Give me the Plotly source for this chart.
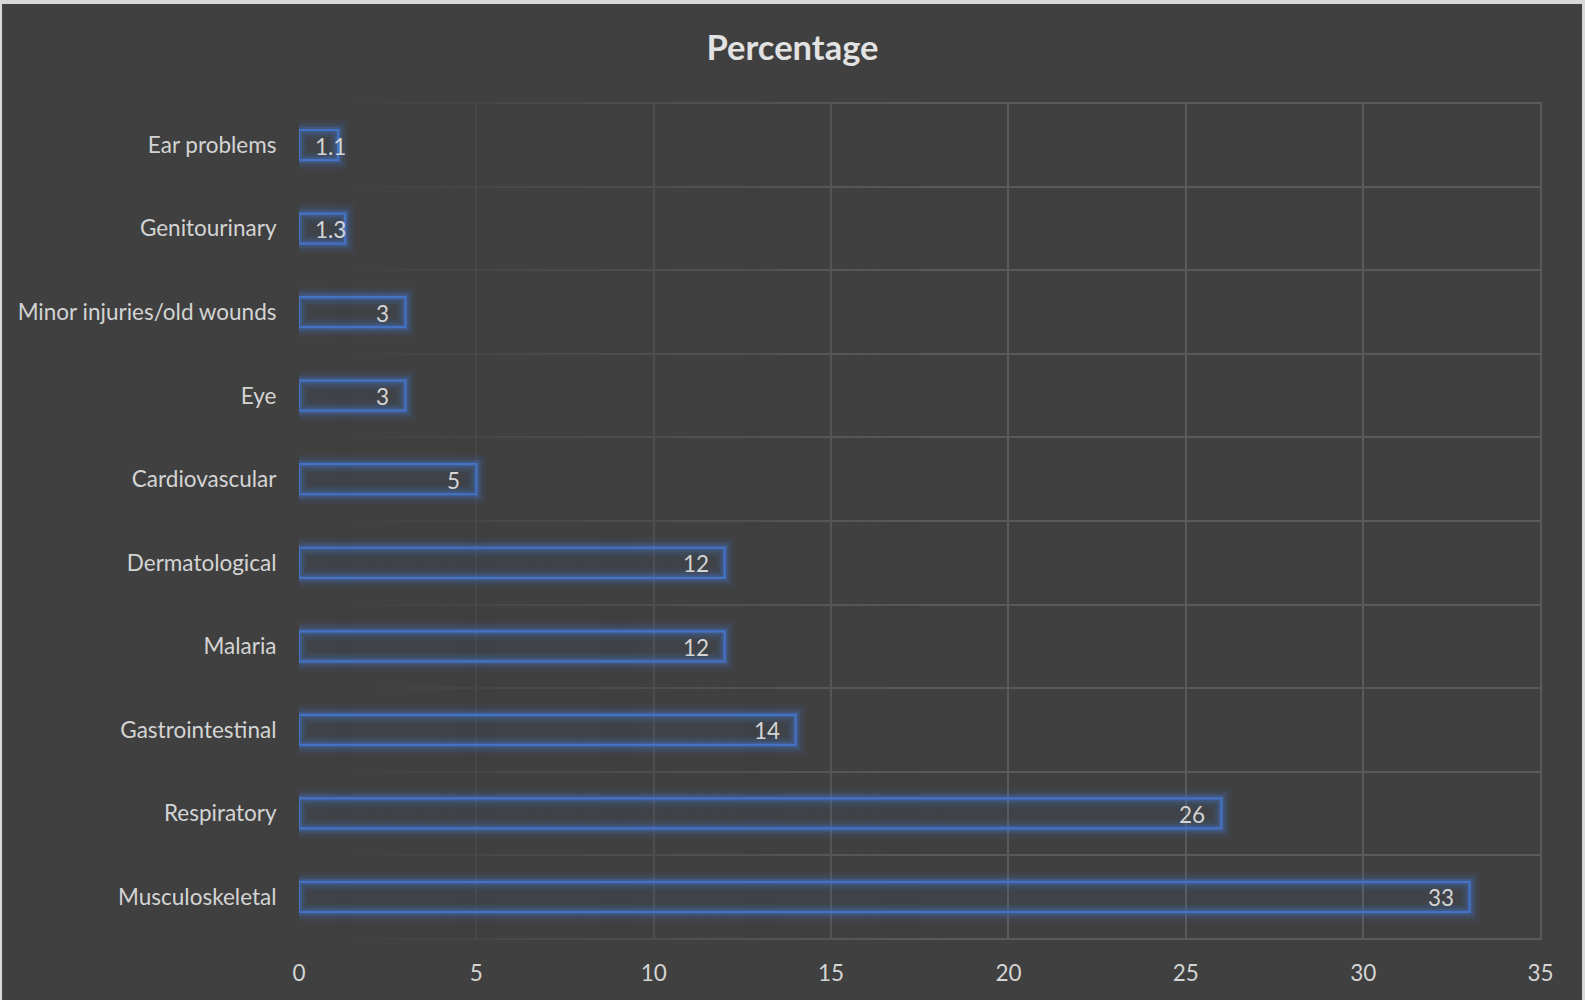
import plotly.graph_objects as go

# Share of consultations by condition group (%)
categories = [
    "Musculoskeletal",
    "Respiratory",
    "Gastrointestinal",
    "Malaria",
    "Dermatological",
    "Cardiovascular",
    "Eye",
    "Minor injuries/old wounds",
    "Genitourinary",
    "Ear problems",
]
percentages = [33, 26, 14, 12, 12, 5, 3, 3, 1.3, 1.1]
x_ticks = [0, 5, 10, 15, 20, 25, 30, 35]

positions = list(range(len(categories)))

BG = "#404040"
GRID = "#5A5A5A"
BLUE = "#4472C4"
TEXT = "#D4D4D4"
FONT = "Lato, 'Open Sans', sans-serif"
LABEL_SIZE = 22.5
Y_LO, Y_HI = -0.515, len(categories) - 0.485

fig = go.Figure()

# soft blue halo around each bar, built from wide translucent outlines
for width, alpha in [(20, 0.07), (14, 0.10), (9.5, 0.16), (6, 0.26)]:
    fig.add_trace(go.Bar(
        x=percentages, y=positions, orientation="h", width=0.36,
        marker=dict(color="rgba(0,0,0,0)",
                    line=dict(color=f"rgba(68,114,196,{alpha})", width=width)),
        hoverinfo="skip", showlegend=False,
    ))

# the bars themselves: outlined in blue with a faint tinted fill
fig.add_trace(go.Bar(
    x=percentages, y=positions, orientation="h", width=0.36,
    marker=dict(color="rgba(68,114,196,0.05)", line=dict(color=BLUE, width=2.2)),
    hoverinfo="skip", showlegend=False,
))

# value labels at the inner end of each bar
for pos, val in zip(positions, percentages):
    if val < 2:
        fig.add_annotation(x=0, y=pos, text=f"{val:g}", showarrow=False,
                           xanchor="left", xshift=14, yshift=-1,
                           font=dict(family=FONT, size=LABEL_SIZE, color=TEXT))
    else:
        fig.add_annotation(x=val, y=pos, text=f"{val:g}", showarrow=False,
                           xanchor="right", xshift=-14, yshift=-1,
                           font=dict(family=FONT, size=LABEL_SIZE, color=TEXT))

# gridlines fade out towards the left of the plot
n_strips = 40
fade_end = 20.0
for i in range(n_strips):
    a = fade_end * i / n_strips
    b = fade_end * (i + 1) / n_strips
    mid = (a + b) / 2
    opacity = max(0.0, min(1.0, 1.05 - mid / 17.0))
    fig.add_shape(type="rect", xref="x", yref="y", layer="between",
                  x0=a - (0.3 if i == 0 else 0), x1=b, y0=Y_LO - 0.1, y1=Y_HI + 0.1,
                  fillcolor=BG, opacity=opacity, line=dict(width=0))

# thin light frame around the chart area
fig.add_shape(type="rect", xref="paper", yref="paper", layer="below",
              x0=-0.2389, x1=1.0322, y0=-0.2, y1=1.1169,
              fillcolor=BG, line=dict(width=0))

fig.update_layout(
    width=1585, height=1000,
    paper_bgcolor="#D9D9D9", plot_bgcolor=BG,
    barmode="overlay",
    margin=dict(l=299, r=43, t=102, b=60),
    title=dict(text="<b>Percentage</b>", x=0.5, xanchor="center",
               y=0.952, yanchor="middle", yref="container",
               font=dict(family=FONT, size=34.5, color="#E2E2E2")),
    font=dict(family=FONT, size=LABEL_SIZE, color=TEXT),
    xaxis=dict(range=[0, 35.04], tickvals=x_ticks, showgrid=True,
               gridcolor=GRID, gridwidth=1.6, zeroline=False,
               showline=False, ticks="outside", ticklen=13,
               tickcolor="rgba(0,0,0,0)", fixedrange=True,
               tickfont=dict(family=FONT, size=LABEL_SIZE, color=TEXT)),
    yaxis=dict(range=[Y_LO, Y_HI], tickvals=positions,
               ticktext=categories, showgrid=False, zeroline=False,
               showline=False, ticks="outside", ticklen=17,
               tickcolor="rgba(0,0,0,0)", fixedrange=True,
               minor=dict(tick0=0.5, dtick=1, showgrid=True,
                          gridcolor=GRID, gridwidth=1.6, ticks=""),
               tickfont=dict(family=FONT, size=LABEL_SIZE, color=TEXT)),
)

fig.write_html("out.html")
